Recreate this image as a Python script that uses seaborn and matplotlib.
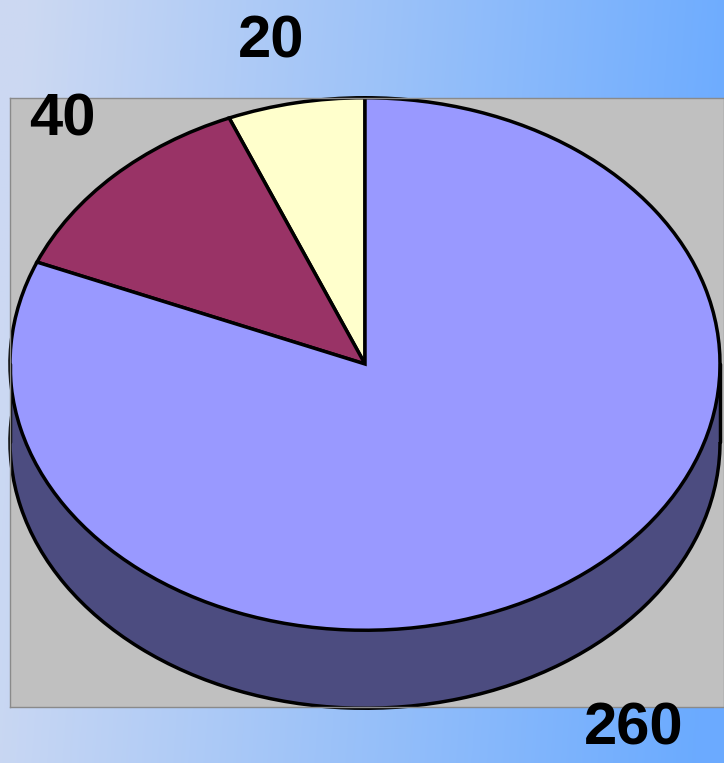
import numpy as np
import matplotlib.pyplot as plt
import seaborn as sns
from matplotlib.patches import Rectangle

# data
values = [20, 40, 260]
labels = ["20", "40", "260"]
top_colors = ["#ffffcc", "#993366", "#9999ff"]
side_colors = ["#80806a", "#4d1a33", "#4c4c80"]

sns.set_style("white")
plt.rcParams["font.family"] = ["Liberation Sans", "DejaVu Sans"]

W, H = 724, 763
fig = plt.figure(figsize=(W / 100, H / 100), dpi=100)

# gradient background
bg = fig.add_axes([0, 0, 1, 1], zorder=-2)
xs = np.linspace(0, 1, 300)
ys = np.linspace(0, 1, 300)
X, Y = np.meshgrid(xs, ys)
t = np.clip(X * 1.0 - (1 - Y) * 0.08 + 0.04, 0, 1)
c_left = np.array([0.80, 0.85, 0.95])
c_right = np.array([0.42, 0.67, 1.0])
img = c_left + (c_right - c_left) * t[..., None]
bg.imshow(img, aspect="auto", extent=[0, 1, 0, 1], origin="upper")
bg.axis("off")

# plot area (pixel based)
a = 0.75  # vertical squash of the pie
ax = fig.add_axes([10 / W, 56 / H, 714 / W, 609 / H])
ax.set_facecolor("#c0c0c0")

cx, cy, r = 365, (H - 364) / a, 355
depth = (708 - 630) / a
edge = dict(edgecolor="black", linewidth=2.5)

# side of the cake
ax.pie(values, colors=side_colors, startangle=90, radius=r,
       center=(cx, cy - depth), wedgeprops=edge, frame=True)
ax.add_patch(Rectangle((cx - r, cy - depth), 2 * r, depth,
                       facecolor=side_colors[2], edgecolor="none"))
ax.plot([cx - r, cx - r], [cy - depth, cy], color="black", lw=2.5)
ax.plot([cx + r, cx + r], [cy - depth, cy], color="black", lw=2.5)

# top face
ax.pie(values, colors=top_colors, startangle=90, radius=r,
       center=(cx, cy), wedgeprops=edge, frame=True)

ax.set_xlim(10, 724)
ax.set_ylim(56 / a, 665 / a)
ax.set_aspect(a)
ax.set_xticks([])
ax.set_yticks([])
for s in ax.spines.values():
    s.set_color("#8a8a8a")
    s.set_linewidth(1)

# value labels
label_pos = [(271, 42), (62, 120), (634, 729)]
for txt, (px, py) in zip(labels, label_pos):
    fig.text(px / W, 1 - py / H, txt, ha="center", va="center",
             fontsize=43, fontweight="bold", color="black")

plt.savefig("out.png", dpi=100)
